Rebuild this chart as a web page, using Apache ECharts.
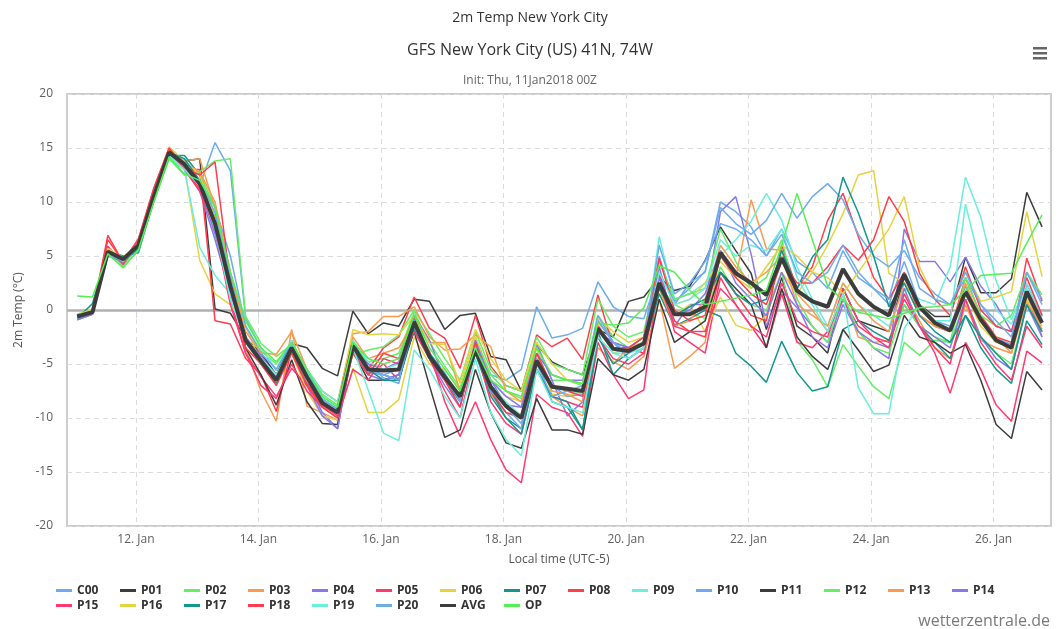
<!DOCTYPE html>
<html>
<head>
<meta charset="utf-8">
<script src="https://cdn.jsdelivr.net/npm/echarts@6/dist/echarts.min.js"></script>
<style>
html, body { margin: 0; padding: 0; background: #fff; }
#chart { width: 1060px; height: 629px; }
</style>
</head>
<body>
<div id="chart"></div>
<script>
// time axis: hours since 11 Jan 00:00 local (UTC-5); first run step is 06Z = 01:00 local
var START_HOUR = 1;
var STEP_HOURS = 6;
var dayTicks = [24, 72, 120, 168, 216, 264, 312, 360];

var c00 = [-0.8,-0.3,5.2,4.6,6.2,11.0,14.4,13.0,11.5,15.5,12.9,-0.8,-3.5,-5.6,-2.8,-5.8,
  -8.2,-9.2,-3.0,-5.0,-6.3,-6.8,-0.6,-4.0,-5.8,-8.4,-3.2,-6.0,-6.5,-5.5,0.3,-2.6,
  -2.3,-1.7,2.6,0.3,-0.6,-0.8,3.5,0.8,2.0,3.6,10.0,9.1,7.7,5.0,7.5,4.5,
  3.5,2.0,5.5,3.0,2.0,0.5,4.5,0.5,-1.0,-1.5,2.2,-0.8,-2.6,-3.2,2.4,-0.6];
var p01 = [-0.7,-0.2,5.5,4.8,6.1,10.8,14.5,13.8,14.0,0.1,-0.3,-2.6,-4.0,-6.0,-3.1,-3.5,
  -5.4,-6.1,-0.1,-2.2,-1.2,-1.5,1.0,0.8,-1.8,-0.5,-0.3,-4.3,-4.6,-7.5,-3.2,-4.8,
  -5.5,-6.0,-1.8,-2.5,0.8,1.2,3.0,1.8,2.2,4.6,7.7,5.5,3.4,-1.8,3.0,-1.5,
  -2.5,-4.0,2.0,-1.0,-1.5,-2.0,3.0,0.5,-0.6,-0.6,4.9,1.6,1.6,2.9,10.9,7.7];
var p02 = [-0.5,-0.1,5.6,4.2,5.8,10.0,14.2,12.5,12.6,9.5,3.5,-1.5,-3.8,-5.0,-3.0,-5.5,
  -7.8,-8.8,-3.5,-4.8,-4.5,-4.0,-0.2,-3.0,-5.2,-7.2,-2.5,-6.0,-7.5,-8.2,-3.0,-6.5,
  -6.5,-7.0,-0.5,-2.5,-3.5,-3.0,2.2,0.5,-0.2,-0.8,4.0,1.5,0.5,0.0,3.5,-2.9,
  -4.6,-7.1,-3.2,-5.2,-7.1,-8.2,-3.0,-4.2,-2.8,-3.0,1.0,-2.5,-4.0,-5.0,0.5,-2.0];
var p03 = [-0.6,-0.1,5.3,4.8,6.0,10.6,14.8,13.8,14.0,9.5,2.0,-3.5,-7.5,-10.3,-1.8,-8.9,
  -9.5,-10.2,-2.5,-4.5,-4.0,-3.5,-1.0,-3.0,-3.0,-7.5,-4.0,-7.8,-9.5,-9.8,-5.5,-8.0,
  -9.0,-9.8,-3.5,-4.8,-5.5,-4.3,1.0,-5.4,-4.3,-3.0,5.5,3.0,10.2,5.7,5.5,1.5,
  0.0,-2.0,1.5,-2.5,-3.0,-2.8,1.5,-1.0,-3.5,-4.5,0.5,-2.8,-3.5,-4.0,0.8,-1.8];
var p04 = [-0.9,-0.4,5.0,4.5,6.0,10.6,14.5,13.2,11.0,6.5,1.5,-2.5,-4.5,-6.0,-3.2,-6.5,
  -9.5,-11.0,-3.5,-5.0,-5.5,-4.8,-0.5,-2.8,-6.5,-9.0,-2.8,-6.5,-8.8,-9.0,-3.2,-6.5,
  -9.8,-8.5,-1.0,-3.0,-3.5,-2.5,4.0,-1.5,0.5,0.5,9.1,10.5,5.2,-1.5,1.8,0.2,
  -1.5,-3.0,1.0,-2.0,-3.5,-4.5,7.5,4.5,4.5,2.6,4.9,2.2,0.5,-2.0,1.5,-2.5];
var p05 = [-0.7,-0.2,5.8,4.4,6.3,10.9,14.9,13.1,11.2,7.5,1.0,-4.0,-6.2,-8.0,-5.4,-7.0,
  -8.8,-9.8,-3.8,-6.0,-5.0,-6.5,-1.5,-3.8,-8.5,-11.7,-8.5,-12.0,-14.8,-16.0,-7.8,-9.0,
  -9.5,-11.7,-3.0,-6.0,-8.2,-7.4,3.5,-2.0,-3.0,-4.0,3.0,0.5,-1.5,-3.5,1.5,-3.0,
  -3.5,-2.0,1.0,-1.5,-2.5,-3.0,1.0,-1.5,-4.0,-7.7,-3.0,-5.5,-8.8,-10.3,-3.8,-4.9];
var p06 = [-0.5,0.0,5.6,4.9,6.1,10.7,15.0,13.2,4.6,1.5,0.5,-1.5,-4.9,-6.3,-4.0,-7.5,
  -9.8,-10.2,-5.4,-9.5,-9.5,-8.3,-2.5,-5.0,-5.5,-7.5,-2.5,-6.5,-8.0,-8.5,-3.5,-7.8,
  -8.0,-7.5,-1.2,-4.0,-3.5,-2.5,1.5,-0.5,0.5,-2.0,1.2,-1.4,-1.9,-0.5,3.5,1.5,
  3.5,6.0,8.9,12.5,12.9,3.4,2.5,0.5,-1.0,-2.0,1.5,-1.5,-3.0,-3.5,1.0,-1.5];
var p07 = [-0.8,0.6,5.5,5.0,5.3,10.2,14.3,14.3,12.5,8.5,3.0,-2.5,-4.5,-6.0,-3.0,-6.0,
  -8.5,-9.5,-3.8,-5.5,-6.0,-6.5,-1.8,-4.5,-6.5,-8.5,-4.0,-8.0,-10.0,-11.0,-4.5,-8.5,
  -9.0,-11.1,-2.0,-6.0,-4.5,-3.5,1.5,-1.5,-0.8,0.0,-0.6,-4.0,-5.2,-6.7,-2.9,-5.8,
  -7.5,-7.1,-1.8,-1.0,-2.0,-2.8,0.5,-1.5,-3.0,-4.5,-0.5,-3.5,-5.5,-6.8,-1.0,-3.2];
var p08 = [-0.6,-0.2,6.9,4.4,6.5,11.2,15.0,13.0,13.0,-1.0,-1.3,-4.5,-6.0,-9.4,-3.7,-6.8,
  -8.8,-9.5,-3.0,-5.5,-3.5,-2.5,1.2,-1.7,-2.6,-5.4,-0.5,-5.2,-7.0,-7.5,-2.3,-3.4,
  -2.6,-4.6,1.4,-3.5,-3.5,-4.0,3.0,-1.0,-2.0,-2.5,3.5,1.5,-0.5,-1.0,6.0,2.0,
  4.0,8.3,10.8,6.8,3.0,1.0,3.5,-0.5,-1.5,-2.0,3.0,-0.5,-2.5,-3.0,4.8,0.8];
var p09 = [-0.7,-0.3,5.2,4.6,5.8,10.2,14.0,13.0,5.8,3.2,1.5,-1.0,-3.5,-5.5,-2.8,-5.8,
  -8.0,-9.0,-2.8,-4.8,-5.5,-5.0,-0.5,-4.5,-6.5,-8.2,-3.5,-7.0,-8.5,-9.8,-5.0,-7.2,
  -7.5,-7.8,-1.5,-4.0,-4.0,-3.5,6.8,1.0,1.5,2.5,5.0,6.5,8.2,10.8,8.3,4.0,
  1.0,-1.5,2.5,0.5,-0.5,-1.5,2.0,1.0,0.5,4.0,12.3,8.6,2.7,-0.9,2.5,-0.5];
var p10 = [-0.7,-0.2,5.4,4.8,6.0,10.6,14.6,13.2,11.8,9.5,5.0,-1.5,-4.0,-5.5,-3.0,-5.5,
  -8.3,-9.2,-3.5,-5.8,-6.0,-5.5,-0.8,-4.5,-6.5,-8.2,-4.0,-7.5,-9.5,-11.0,-4.5,-7.0,
  -8.0,-7.8,-1.0,-3.0,-4.5,-3.5,5.0,0.5,2.5,3.5,9.5,8.0,7.0,8.3,10.8,8.5,
  10.5,11.7,10.2,7.0,5.0,4.0,5.5,3.0,1.5,0.5,3.0,0.5,-1.5,-2.0,3.5,1.0];
var p11 = [-0.8,-0.3,5.3,4.6,5.9,10.4,14.5,13.5,12.0,8.5,2.5,-3.5,-6.0,-8.8,-4.6,-8.5,
  -10.5,-10.6,-3.8,-6.5,-6.5,-6.0,-2.0,-7.0,-11.8,-11.1,-5.5,-9.5,-12.3,-12.8,-8.2,-11.1,
  -11.1,-11.5,-4.5,-6.0,-6.5,-5.5,1.0,-3.0,-2.0,-1.0,3.5,2.0,0.5,-3.5,2.0,-2.5,
  -4.3,-5.5,-1.8,-3.7,-5.7,-5.1,-0.5,-2.5,-3.0,-4.0,-3.2,-6.5,-10.6,-11.9,-5.7,-7.4];
var p12 = [-0.4,0.0,5.6,4.0,5.5,10.0,14.0,12.5,12.8,13.8,14.0,-0.6,-3.1,-4.3,-3.2,-5.5,
  -7.5,-8.5,-4.2,-3.7,-3.4,-2.3,0.0,-2.2,-4.5,-6.5,-2.0,-5.5,-7.0,-7.5,-2.5,-5.0,
  -5.5,-6.0,1.0,-1.5,-2.5,-2.0,4.5,1.0,1.5,2.0,7.5,4.5,2.0,3.0,6.5,1.0,
  -1.5,-3.0,1.5,-2.0,-3.5,-4.0,0.5,-1.5,-2.5,-3.0,3.0,-0.5,-1.5,-0.5,3.5,1.4];
var p13 = [-0.5,-0.1,5.5,4.7,6.1,10.5,14.7,13.6,12.8,10.0,3.5,-2.0,-4.0,-4.1,-2.0,-5.5,
  -7.5,-8.5,-2.2,-2.0,-0.6,-0.6,0.3,-2.5,-3.7,-3.6,-2.3,-3.4,-7.5,-8.5,-4.0,-7.5,
  -7.8,-8.5,-2.5,-5.0,-3.5,-3.0,2.0,-1.5,-1.0,1.0,6.0,4.0,2.5,3.5,5.0,0.5,
  -0.5,-1.5,2.5,0.5,-1.0,-2.0,2.5,-0.5,-1.5,-2.0,2.5,-1.0,-2.5,-4.0,1.5,-2.0];
var p14 = [-0.9,-0.4,5.1,4.4,5.8,10.3,14.4,13.4,11.5,7.0,2.0,-2.8,-4.2,-6.2,-3.5,-7.0,
  -9.8,-11.0,-3.3,-6.0,-6.5,-6.0,-0.8,-4.5,-7.0,-9.0,-2.8,-6.5,-8.0,-9.0,-4.0,-6.0,
  -6.5,-6.5,-2.0,-3.0,-3.5,-2.5,3.0,-0.5,0.0,1.5,5.5,2.5,1.0,-0.5,3.5,0.5,
  -2.5,-3.5,0.5,-2.0,-3.0,-3.5,2.0,-1.5,-2.5,-3.5,1.0,-2.5,-4.5,-5.5,0.5,-2.5];
var p15 = [-0.6,-0.2,5.9,4.2,6.4,11.0,14.8,13.0,11.0,7.5,0.5,-4.0,-7.0,-8.2,-5.0,-7.5,
  -9.0,-10.0,-5.5,-6.5,-4.5,-5.0,-2.0,-4.5,-7.5,-10.0,-3.5,-8.5,-10.5,-11.5,-5.5,-8.0,
  -8.5,-9.0,-2.5,-4.5,-5.0,-4.0,2.5,-1.5,-2.0,-2.0,2.0,0.5,-1.5,-2.5,2.5,-1.0,
  -2.0,-2.5,2.0,-1.0,-2.5,-3.5,1.5,-1.5,-3.5,-5.0,1.0,-3.0,-5.0,-6.5,-1.5,-3.5];
var p16 = [-0.5,0.1,5.7,4.9,6.2,10.8,15.1,13.8,12.5,8.5,2.5,-2.5,-4.5,-6.0,-3.5,-6.5,
  -8.5,-9.5,-1.8,-2.3,-2.2,-2.3,-0.5,-3.1,-3.2,-6.8,-1.8,-4.5,-6.5,-7.5,-3.0,-5.0,
  -6.5,-6.8,-0.8,-2.0,-3.0,-2.5,2.0,0.5,1.0,2.5,4.5,3.0,2.0,4.0,6.0,5.0,
  3.5,3.0,1.5,3.5,5.5,7.5,10.5,4.0,1.0,0.5,3.5,0.8,1.2,1.7,9.1,3.1];
var p17 = [-0.7,-0.1,5.5,4.9,5.6,10.4,14.6,14.0,12.0,8.0,2.0,-3.0,-5.0,-6.8,-3.5,-6.0,
  -8.5,-9.5,-3.0,-5.5,-6.5,-6.5,-1.5,-4.0,-6.0,-8.0,-4.0,-7.5,-10.0,-11.5,-5.5,-8.0,
  -8.5,-11.1,-2.5,-5.0,-4.0,-3.0,2.0,-0.5,0.3,1.0,3.5,1.5,0.5,1.0,5.5,2.0,
  4.9,6.5,12.3,9.0,5.0,0.3,2.5,-0.5,-2.0,-3.0,-0.5,-2.5,-4.0,-5.5,0.5,-2.0];
var p18 = [-0.6,-0.1,6.5,4.5,6.6,11.3,15.0,13.2,12.5,13.7,2.5,-3.5,-5.0,-7.0,-4.0,-7.0,
  -9.0,-10.0,-4.0,-6.0,-4.0,-4.5,-0.5,-4.5,-6.5,-9.0,-3.0,-7.5,-9.5,-10.0,-4.0,-7.0,
  -7.5,-8.0,-1.5,-3.5,-3.5,-2.5,4.8,0.0,-1.0,-0.5,5.0,3.0,1.5,0.5,4.5,2.5,
  2.5,4.0,6.0,4.6,6.5,10.5,8.2,3.4,1.0,-0.5,4.0,0.0,-1.5,-2.0,3.0,-0.5];
var p19 = [-0.7,-0.2,5.3,4.5,5.9,10.4,14.3,13.0,11.5,7.5,1.0,-2.8,-4.5,-6.0,-3.8,-5.5,
  -7.5,-8.5,-3.5,-7.4,-11.4,-12.1,-3.7,-5.5,-8.0,-10.0,-4.5,-9.5,-12.0,-13.5,-5.5,-8.5,
  -9.0,-9.5,-2.5,-4.0,-4.5,-3.5,3.5,0.5,1.0,2.0,6.5,5.0,6.0,5.5,7.5,3.0,
  0.5,-2.0,1.5,-7.2,-9.6,-9.6,-1.7,0.5,-1.0,-1.0,9.8,4.0,0.0,-1.3,2.0,-1.0];
var p20 = [-0.8,-0.3,5.3,4.7,6.1,10.8,14.7,13.3,12.0,9.0,3.0,-2.5,-4.5,-6.5,-3.3,-6.3,
  -8.5,-9.5,-3.0,-5.5,-6.0,-6.5,-1.0,-4.5,-6.0,-8.5,-3.5,-7.5,-9.0,-10.5,-5.0,-8.0,
  -7.5,-7.0,-0.5,-3.0,-4.0,-3.0,6.0,1.5,2.5,4.5,8.0,7.5,6.5,5.0,7.0,3.5,
  2.5,3.5,6.0,3.5,2.0,1.0,6.5,2.0,1.0,0.5,3.5,0.5,-1.0,-2.5,3.5,0.5];
var avg = [-0.6,-0.2,5.4,4.7,6.0,10.5,14.6,13.5,11.7,8.0,2.2,-2.8,-4.7,-6.5,-3.5,-6.2,
  -8.6,-9.5,-3.3,-5.5,-5.6,-5.5,-1.1,-4.3,-6.2,-8.0,-3.7,-7.1,-8.9,-10.0,-4.7,-7.1,
  -7.3,-7.5,-1.7,-3.6,-3.8,-3.1,2.5,-0.4,-0.4,0.3,5.3,3.4,2.5,1.4,4.8,1.8,
  0.8,0.3,3.8,1.5,0.3,-0.5,3.3,0.3,-1.2,-1.9,1.7,-0.9,-2.8,-3.5,1.7,-1.2];
var op = [1.3,1.2,5.2,3.9,5.6,10.0,14.2,12.6,12.0,9.5,3.5,-1.0,-3.5,-4.8,-3.0,-5.5,
  -8.0,-9.0,-3.0,-4.5,-5.0,-4.5,-0.5,-3.5,-5.5,-7.5,-3.5,-6.5,-7.5,-8.0,-3.5,-6.0,
  -6.5,-6.8,-1.2,-1.4,-1.2,0.2,4.1,3.5,1.8,0.5,0.8,1.1,1.4,1.8,6.0,10.8,
  6.5,2.2,0.9,-0.2,-0.5,-0.8,-0.3,0.2,0.3,0.5,1.8,3.2,3.3,3.4,6.2,8.8];

var seriesNames = ['C00','P01','P02','P03','P04','P05','P06','P07','P08','P09','P10',
  'P11','P12','P13','P14','P15','P16','P17','P18','P19','P20','AVG','OP'];
var seriesValues = [c00,p01,p02,p03,p04,p05,p06,p07,p08,p09,p10,
  p11,p12,p13,p14,p15,p16,p17,p18,p19,p20,avg,op];
var seriesColors = ['#6cacef','#3c3c3c','#66ee66','#fb9b4f','#8679e9','#ff3a70','#e6d342','#149690','#ff3d4d','#6aeedd','#6cacef',
  '#3c3c3c','#66ee66','#fb9b4f','#8679e9','#ff3a70','#e6d342','#149690','#ff3d4d','#6aeedd','#6cacef','#3c3c3c','#55ee55'];

var FONT = '"Open Sans", "DejaVu Sans", sans-serif';

var chart = echarts.init(document.getElementById('chart'));

var series = seriesNames.map(function (name, k) {
    var isAvg = name === 'AVG';
    var s = {
        name: name,
        type: 'line',
        showSymbol: false,
        symbol: 'none',
        animation: false,
        z: isAvg ? 4 : (name === 'OP' ? 5 : 3),
        lineStyle: { width: isAvg ? 4 : 1.5, color: seriesColors[k] },
        itemStyle: { color: seriesColors[k] },
        data: seriesValues[k].map(function (v, i) {
            return [START_HOUR + i * STEP_HOURS, v];
        })
    };
    if (isAvg) {
        // grey zero line (plot line in the original)
        s.markLine = {
            silent: true,
            symbol: 'none',
            label: { show: false },
            lineStyle: { color: '#b0b0b0', width: 2.5, type: 'solid' },
            data: [{ yAxis: 0 }],
            z: 2
        };
    }
    return s;
});

var option = {
    backgroundColor: '#fff',
    animation: false,
    textStyle: { fontFamily: FONT },
    title: [
        { text: '2m Temp New York City', left: 'center', top: 6,
          textStyle: { fontSize: 14, fontWeight: 'normal', color: '#333', fontFamily: FONT } },
        { text: 'GFS New York City (US) 41N, 74W', left: 'center', top: 37,
          textStyle: { fontSize: 16, fontWeight: 'normal', color: '#333', fontFamily: FONT } },
        { text: 'Init: Thu, 11Jan2018 00Z', left: 'center', top: 70,
          textStyle: { fontSize: 12, fontWeight: 'normal', color: '#666', fontFamily: FONT } }
    ],
    legend: {
        data: seriesNames,
        left: 56,
        top: 584,
        width: 975,
        orient: 'horizontal',
        icon: 'rect',
        itemWidth: 16,
        itemHeight: 3,
        itemGap: 2,
        padding: 0,
        formatter: function (name) { return '{n|' + name + '}'; },
        textStyle: {
            fontFamily: FONT,
            rich: { n: { width: 41, height: 13, lineHeight: 13, fontSize: 12, fontWeight: 'bold', color: '#333', fontFamily: FONT } }
        }
    },
    grid: {
        left: 67, right: 9, top: 94, bottom: 103,
        show: true, borderColor: '#cccccc', borderWidth: 2, containLabel: false
    },
    xAxis: {
        type: 'value',
        min: -3,
        max: 382.5,
        name: 'Local time (UTC-5)',
        nameLocation: 'middle',
        nameGap: 28,
        nameTextStyle: { fontSize: 12, color: '#555', fontFamily: FONT },
        axisLine: { show: true, lineStyle: { color: '#ccd6eb', width: 1 } },
        axisTick: { show: true, customValues: dayTicks, length: 8, lineStyle: { color: '#ccd6eb' } },
        axisLabel: {
            customValues: dayTicks,
            fontSize: 12, color: '#606060', margin: 8,
            formatter: function (v) { return (11 + Math.floor(v / 24)) + '. Jan'; }
        },
        splitLine: { show: true, lineStyle: { color: '#dcdcdc', type: [5, 4], width: 1 } }
    },
    yAxis: {
        type: 'value',
        min: -20,
        max: 20,
        interval: 5,
        name: '2m Temp (°C)',
        nameLocation: 'middle',
        nameGap: 42,
        nameRotate: 90,
        nameTextStyle: { fontSize: 12, color: '#555', fontFamily: FONT },
        axisLine: { show: false },
        axisTick: { show: false },
        axisLabel: { fontSize: 12, color: '#606060', margin: 14 },
        splitLine: { show: true, lineStyle: { color: '#dcdcdc', type: [5, 4], width: 1 } }
    },
    graphic: [
        { type: 'rect', left: 1033, top: 47, shape: { width: 14, height: 2.5 }, style: { fill: '#666' } },
        { type: 'rect', left: 1033, top: 52, shape: { width: 14, height: 2.5 }, style: { fill: '#666' } },
        { type: 'rect', left: 1033, top: 57, shape: { width: 14, height: 2.5 }, style: { fill: '#666' } },
        { type: 'text', right: 10, top: 613,
          style: { text: 'wetterzentrale.de', fill: '#7a7a7a', font: '16px "Open Sans", "DejaVu Sans", sans-serif' } }
    ],
    series: series
};

chart.setOption(option);
</script>
</body>
</html>
